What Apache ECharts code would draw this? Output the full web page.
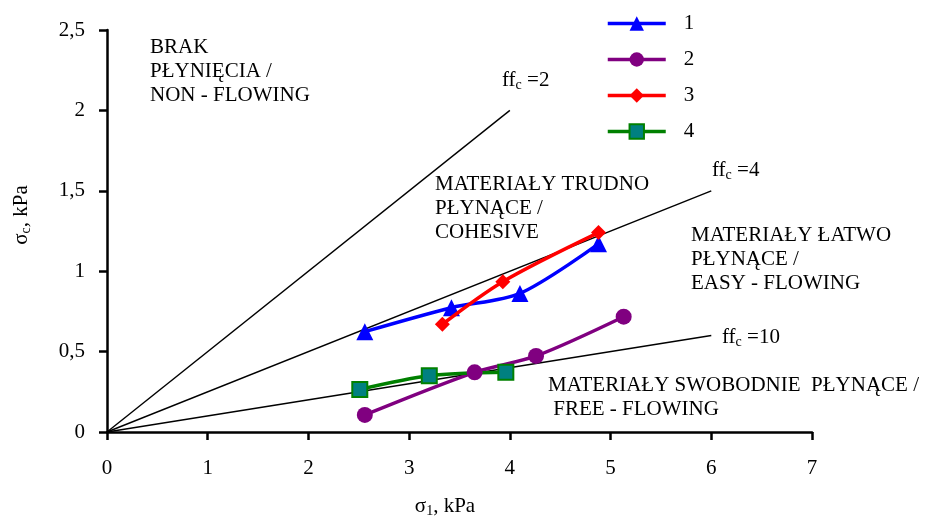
<!DOCTYPE html>
<html>
<head>
<meta charset="utf-8">
<script src="https://cdn.jsdelivr.net/npm/echarts@6/dist/echarts.min.js"></script>
<style>
html,body{margin:0;padding:0;background:#fff;}
#main{width:927px;height:519px;}
</style>
</head>
<body>
<div id="main"></div>
<script>
// ---- data ----
const seriesNames = ['1', '2', '3', '4'];
const s1x = [2.56, 3.42, 4.10, 4.88];
const s1y = [0.624, 0.773, 0.862, 1.17];
const s2x = [2.56, 3.65, 4.26, 5.13];
const s2y = [0.106, 0.371, 0.473, 0.717];
const s3x = [3.33, 3.93, 4.88];
const s3y = [0.67, 0.935, 1.24];
const s4x = [2.51, 3.20, 3.96];
const s4y = [0.265, 0.35, 0.371];
// flow function lines ff_c: sigma_c = sigma_1 / ff_c
const ffValues = [2, 4, 10];
const ffEndX = [4, 6, 6];
const xTicks = [0, 1, 2, 3, 4, 5, 6, 7];
const yTicks = [0, 0.5, 1, 1.5, 2, 2.5];

const FONT = '"Liberation Serif", "Times New Roman", serif';
const FS = 21;
const zip = (xs, ys) => xs.map((v, i) => [v, ys[i]]);

const chart = echarts.init(document.getElementById('main'));

const ffSeries = ffValues.map((f, i) => ({
  type: 'line',
  data: [[0, 0], [ffEndX[i], ffEndX[i] / f]],
  symbol: 'none',
  lineStyle: { color: '#000', width: 1.4 },
  silent: true,
  z: 1
}));

function txt(x, y, text) {
  return {
    type: 'text', x: x, y: y,
    style: { text: text, font: FS + 'px ' + FONT, fill: '#000', verticalAlign: 'middle', align: 'left' }
  };
}
const richSub = {
  a: { fontFamily: FONT, fontSize: FS, lineHeight: 24, verticalAlign: 'middle', fill: '#000' },
  b: { fontFamily: FONT, fontSize: 14, lineHeight: 14, verticalAlign: 'bottom', fill: '#000' }
};
function ffText(x, y, val) {
  return {
    type: 'text', x: x, y: y,
    style: { text: '{a|ff}{b|c}{a| =' + val + '}', verticalAlign: 'middle', rich: richSub }
  };
}

const option = {
  animation: false,
  backgroundColor: '#fff',
  grid: { left: 107, right: 115, top: 30, bottom: 87, containLabel: false },
  legend: {
    data: seriesNames,
    orient: 'vertical',
    left: 601,
    top: 8,
    itemWidth: 58,
    itemHeight: 18,
    itemGap: 15,
    lineStyle: { width: 3.5 },
    textStyle: { fontFamily: FONT, fontSize: FS, color: '#000', padding: [0, 0, 0, 13], lineHeight: 20 }
  },
  xAxis: {
    type: 'value', min: 0, max: 7, interval: 1,
    axisLine: { show: true, onZero: false, lineStyle: { color: '#000', width: 2.5 } },
    axisTick: { show: true, length: 8, lineStyle: { color: '#000', width: 2.5 } },
    axisLabel: { margin: 26, fontFamily: FONT, fontSize: FS, color: '#000', customValues: xTicks },
    splitLine: { show: false }
  },
  yAxis: {
    type: 'value', min: 0, max: 2.5, interval: 0.5,
    axisLine: { show: true, onZero: false, lineStyle: { color: '#000', width: 2.5 } },
    axisTick: { show: true, length: 8, lineStyle: { color: '#000', width: 2.5 } },
    axisLabel: { margin: 22, fontFamily: FONT, fontSize: FS, color: '#000',
      formatter: v => String(v).replace('.', ',') },
    splitLine: { show: false }
  },
  series: ffSeries.concat([
    {
      name: '1', type: 'line', data: zip(s1x, s1y), smooth: 0.3,
      symbol: 'triangle', symbolSize: 17,
      lineStyle: { color: '#0000FF', width: 3.5 },
      itemStyle: { color: '#0000FF' }, z: 5
    },
    {
      name: '2', type: 'line', data: zip(s2x, s2y), smooth: 0.3,
      symbol: 'circle', symbolSize: 16,
      lineStyle: { color: '#800080', width: 3.5 },
      itemStyle: { color: '#800080' }, z: 5
    },
    {
      name: '3', type: 'line', data: zip(s3x, s3y), smooth: 0.3,
      symbol: 'diamond', symbolSize: 15,
      lineStyle: { color: '#FF0000', width: 3.5 },
      itemStyle: { color: '#FF0000' }, z: 6
    },
    {
      name: '4', type: 'line', data: zip(s4x, s4y), smooth: 0.3,
      symbol: 'rect', symbolSize: 15,
      lineStyle: { color: '#008000', width: 3.5 },
      itemStyle: { color: '#008080', borderColor: '#008000', borderWidth: 2 }, z: 5
    }
  ]),
  graphic: [
    txt(150, 47, 'BRAK'),
    txt(150, 71, 'PŁYNIĘCIA /'),
    txt(150, 95, 'NON - FLOWING'),
    txt(435, 184, 'MATERIAŁY TRUDNO'),
    txt(435, 208, 'PŁYNĄCE /'),
    txt(435, 232, 'COHESIVE'),
    txt(691, 235, 'MATERIAŁY ŁATWO'),
    txt(691, 259, 'PŁYNĄCE /'),
    txt(691, 283, 'EASY - FLOWING'),
    txt(548, 385, 'MATERIAŁY SWOBODNIE  PŁYNĄCE /'),
    txt(548, 409, ' FREE - FLOWING'),
    ffText(502, 80, '2'),
    ffText(712, 170, '4'),
    ffText(722, 337, '10'),
    { type: 'text', x: 445, y: 506, style: {
        text: '{a|σ}{b|1}{a|, kPa}', align: 'center', verticalAlign: 'middle', rich: richSub } },
    { type: 'text', x: 21, y: 215, rotation: Math.PI / 2, style: {
        text: '{a|σ}{b|c}{a|, kPa}', align: 'center', verticalAlign: 'middle', rich: richSub } }
  ]
};
chart.setOption(option);
</script>
</body>
</html>
